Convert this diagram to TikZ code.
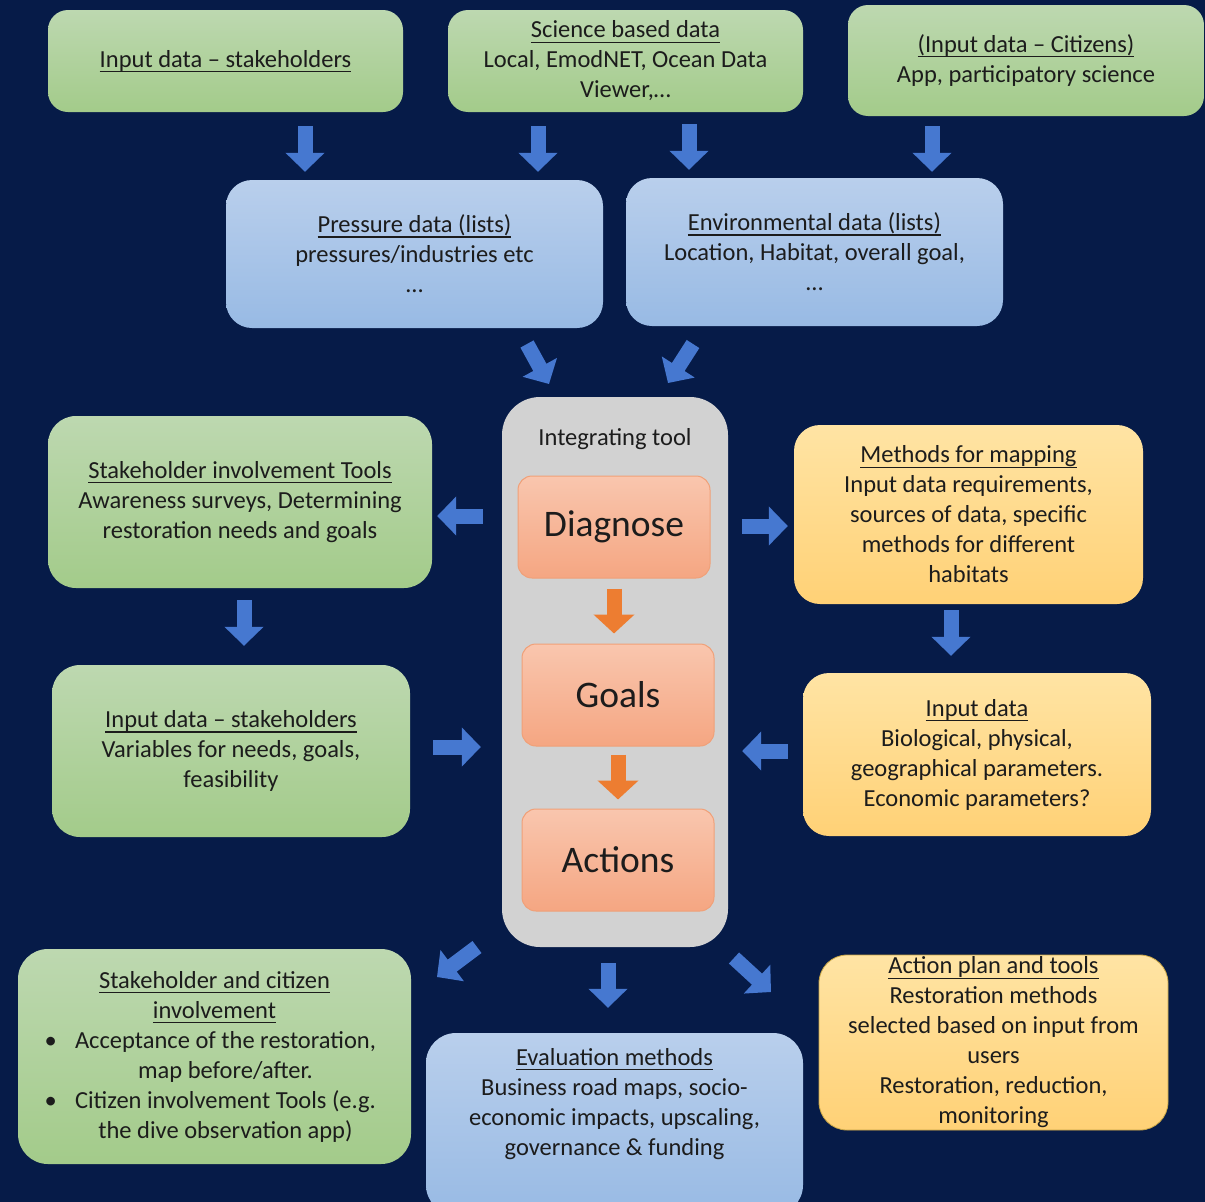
\documentclass[tikz,border=0pt]{standalone}
\usepackage{fontspec}
\setmainfont{Carlito}
\usetikzlibrary{arrows.meta}
\definecolor{bg}{RGB}{6,27,72}
\definecolor{txt}{RGB}{28,28,28}
\definecolor{gTop}{RGB}{189,216,176}
\definecolor{gBot}{RGB}{163,203,138}
\definecolor{bTop}{RGB}{185,207,236}
\definecolor{bBot}{RGB}{152,186,228}
\definecolor{yTop}{RGB}{255,228,164}
\definecolor{yBot}{RGB}{255,209,118}
\definecolor{oTop}{RGB}{249,198,174}
\definecolor{oBot}{RGB}{245,166,130}
\definecolor{oEdge}{RGB}{240,160,120}
\definecolor{grey}{RGB}{210,210,210}
\definecolor{arrB}{RGB}{70,120,208}
\definecolor{arrO}{RGB}{237,125,49}
\definecolor{yEdge}{RGB}{200,165,70}
\newcommand{\myul}[1]{\leavevmode\setbox0=\hbox{#1}\rlap{\rule[-5pt]{\wd0}{1.4pt}}\box0}
\newcommand{\bul}[2]{\leavevmode\makebox[22pt][l]{\textbullet}\makebox[318pt][c]{#1}\\ \hspace*{22pt}\makebox[318pt][c]{#2}}
\tikzset{
  box/.style={rounded corners=#1, align=center, inner sep=0pt, text=txt,
    font=\fontsize{24.5}{30}\selectfont},
  box/.default=20pt,
  gbox/.style={box=#1, top color=gTop, bottom color=gBot},
  gbox/.default=20pt,
  bbox/.style={box=#1, top color=bTop, bottom color=bBot},
  bbox/.default=26pt,
  ybox/.style={box=#1, top color=yTop, bottom color=yBot},
  ybox/.default=26pt,
  obox/.style={box=14pt, top color=oTop, bottom color=oBot, draw=oEdge, line width=1pt,
    minimum width=192pt, minimum height=102pt, font=\fontsize{37.5}{40}\selectfont},
  barrow/.style={draw=arrB, line width=15pt, -{Triangle[length=19pt,width=38pt,fill=arrB]}},
  oarrow/.style={draw=arrO, line width=15pt, -{Triangle[length=19pt,width=40pt,fill=arrO]}},
  plain/.style={inner sep=0pt, text=txt, font=\fontsize{24.5}{30}\selectfont}
}
\begin{document}
\begin{tikzpicture}[x=1pt,y=-1pt]
\useasboundingbox (0,0) rectangle (1205,1202);
\fill[bg] (0,0) rectangle (1205,1202);
\clip (0,0) rectangle (1205,1202);

% top row
\node[gbox, minimum width=355pt, minimum height=102pt] (in1) at (225.5,61) {\myul{Input data – stakeholders}};
\node[gbox, minimum width=355pt, minimum height=102pt] (sci) at (625.5,61) {\myul{Science based data}\\ Local, EmodNET, Ocean Data\\ Viewer,…};
\node[gbox, minimum width=356pt, minimum height=111pt] (cit) at (1026,60.5) {\myul{(Input data – Citizens)}\\ App, participatory science};

% second row
\node[bbox, minimum width=377pt, minimum height=148pt] (press) at (414.5,254) {\myul{Pressure data (lists)}\\ pressures/industries etc\\ …};
\node[bbox, minimum width=377pt, minimum height=148pt] (env) at (814.5,252) {\myul{Environmental data (lists)}\\ Location, Habitat, overall goal,\\ …};

% integrating tool
\node[box=38pt, fill=grey, minimum width=226pt, minimum height=550pt] (integ) at (615,672) {};
\node[plain] (integt) at (615,439) {Integrating tool};
\node[obox] (diag) at (614,527) {Diagnose};
\node[obox] (goals) at (618,695) {Goals};
\node[obox] (acts) at (618,860) {Actions};

% left column
\node[gbox=28pt, minimum width=384pt, minimum height=172pt] (stk) at (240,502) {\myul{Stakeholder involvement Tools}\\ Awareness surveys, Determining\\ restoration needs and goals};
\node[gbox=28pt, minimum width=358pt, minimum height=172pt] (in2) at (231,751) {\myul{Input data – stakeholders}\\ Variables for needs, goals,\\ feasibility};

% right column
\node[ybox, minimum width=349pt, minimum height=179pt] (meth) at (968.5,514.5) {\myul{Methods for mapping}\\ Input data requirements,\\ sources of data, specific\\ methods for different\\ habitats};
\node[ybox, minimum width=348pt, minimum height=163pt] (in3) at (977,754.5) {\myul{Input data}\\ Biological, physical,\\ geographical parameters.\\ Economic parameters?};

% bottom row
\node[gbox=30pt, minimum width=393pt, minimum height=215pt] (cinv) at (214.5,1056.5)
  {\myul{Stakeholder and citizen}\\ \myul{involvement}\\ \bul{Acceptance of the restoration,}{map before/after.}\\ \bul{Citizen involvement Tools (e.g.}{the dive observation app)}};
\node[bbox=30pt, minimum width=377pt, minimum height=182pt] (eval) at (614.5,1124) {};
\node[plain, align=center] (evalt) at (614.5,1104) {\myul{Evaluation methods}\\ Business road maps, socio-\\ economic impacts, upscaling,\\ governance \& funding};
\node[ybox=28pt, minimum width=349pt, minimum height=175pt, draw=yEdge, line width=0.8pt] (plan) at (993.5,1042.5) {\myul{Action plan and tools}\\ Restoration methods\\ selected based on input from\\ users\\ Restoration, reduction,\\ monitoring};

% helper coordinates for arrow axes
\coordinate (xa1) at (305,0);
\coordinate (xa2) at (538,0);
\coordinate (xa3) at (689,0);
\coordinate (xa4) at (932,0);
\coordinate (ya7) at (0,516);
\coordinate (ya8) at (0,526);
\coordinate (xa9) at (244,0);
\coordinate (xa10) at (951,0);
\coordinate (ya11) at (0,747);
\coordinate (ya12) at (0,751);
\coordinate (xa14) at (608,0);
\coordinate (d1s) at (527,344);
\coordinate (d1e) at (549,384);
\coordinate (d2s) at (693,344);
\coordinate (d2e) at (668,383);
\coordinate (d3s) at (477,947);
\coordinate (d3e) at (437,977);
\coordinate (d4s) at (734,958);
\coordinate (d4e) at (771,992);

% blue arrows
\draw[barrow, shorten <=14pt, shorten >=8pt] (in1.south -| xa1) -- (press.north -| xa1);
\draw[barrow, shorten <=14pt, shorten >=8pt] (sci.south -| xa2) -- (press.north -| xa2);
\draw[barrow, shorten <=12pt, shorten >=8pt] (sci.south -| xa3) -- (env.north -| xa3);
\draw[barrow, shorten <=10pt, shorten >=6pt] (cit.south -| xa4) -- (env.north -| xa4);
\draw[barrow] (d1s) -- (d1e);
\draw[barrow] (d2s) -- (d2e);
\draw[barrow, shorten <=19pt, shorten >=5pt] (integ.west |- ya7) -- (stk.east |- ya7);
\draw[barrow, shorten <=14pt, shorten >=6pt] (integ.east |- ya8) -- (meth.west |- ya8);
\draw[barrow, shorten <=12pt, shorten >=19pt] (stk.south -| xa9) -- (in2.north -| xa9);
\draw[barrow, shorten <=6pt, shorten >=17pt] (meth.south -| xa10) -- (in3.north -| xa10);
\draw[barrow, shorten <=23pt, shorten >=21pt] (in2.east |- ya11) -- (integ.west |- ya11);
\draw[barrow, shorten <=15pt, shorten >=14pt] (in3.west |- ya12) -- (integ.east |- ya12);
\draw[barrow] (d3s) -- (d3e);
\draw[barrow, shorten <=16pt, shorten >=25pt] (integ.south -| xa14) -- (eval.north -| xa14);
\draw[barrow] (d4s) -- (d4e);

% orange arrows
\draw[oarrow, shorten <=10pt, shorten >=10pt] (diag.south) -- (diag.south |- goals.north);
\draw[oarrow, shorten <=8pt, shorten >=9pt] (goals.south) -- (goals.south |- acts.north);
\end{tikzpicture}
\end{document}
